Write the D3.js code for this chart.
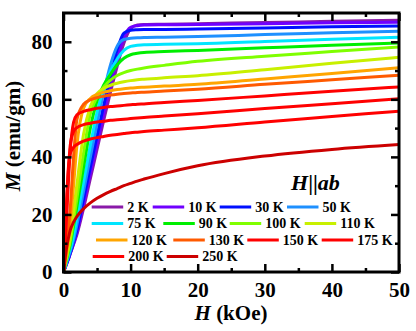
<!DOCTYPE html>
<html>
<head>
<meta charset="utf-8">
<script src="https://cdn.jsdelivr.net/npm/d3@7"></script>
<style>
  body { margin: 0; background: #fff; }
  svg { display: block; }
</style>
</head>
<body>
<svg id="chart" width="416" height="331"></svg>
<script>
// field values (kOe) shared by all curves
const fields = [0, 0.25, 0.5, 0.75, 1, 1.5, 2, 3, 4, 5, 6, 7, 8, 9, 10, 11, 12, 15, 20, 30, 40, 50];

const temps = ["2 K", "10 K", "30 K", "50 K", "75 K", "90 K", "100 K", "110 K", "120 K", "130 K", "150 K", "175 K", "200 K", "250 K"];
const colors = ["#8a1aa8", "#7000ff", "#0010ff", "#1e90ff", "#00e5ff", "#00ee00", "#7fff00", "#c8f000",
                "#ffa500", "#ff5a00", "#ff0000", "#ff0000", "#ff0000", "#cc0000"];

// magnetisation (emu/gm), one row per temperature
const m2   = [0, 1.5, 3, 4.6, 6.3, 9.6, 13, 22.2, 32.4, 42.6, 52.8, 62.5, 71.5, 79.5, 84.5, 85.8, 86, 86.1, 86.3, 86.7, 87.1, 87.5];
const m10  = [0, 1.5, 3.1, 4.6, 6.4, 9.9, 13.8, 23.8, 34.2, 44.6, 55, 65, 74, 81.5, 85, 85.6, 85.8, 85.9, 86, 86.3, 86.6, 86.8];
const m30  = [0, 1.6, 3.2, 4.8, 6.6, 10.3, 14.6, 25.5, 36.4, 47.3, 58, 68, 77.2, 83, 84, 84.2, 84.3, 84.3, 84.4, 84.8, 85.2, 85.5];
const m50  = [0, 1.8, 3.6, 5.4, 7.2, 11.2, 16.4, 28.2, 39.9, 51.6, 62.5, 72, 78.5, 80.8, 81.2, 81.4, 81.5, 81.6, 81.8, 82.5, 83.1, 83.7];
const m75  = [0, 2, 4, 6, 8, 12.7, 19, 31.5, 44, 55.5, 64, 69.8, 74, 77, 78.4, 78.8, 79, 79.1, 79.3, 80.1, 80.9, 81.6];
const m90  = [0, 2.4, 4.7, 7, 9.5, 16, 22.8, 36.5, 50, 59.5, 65, 68.7, 72, 74.3, 75.5, 76, 76.3, 76.6, 77, 77.9, 78.8, 79.6];
const m100 = [0, 2.6, 5.2, 7.8, 10.5, 17.8, 25.7, 41.5, 55, 60.8, 64.3, 66.7, 68.3, 69.3, 70, 70.5, 70.9, 71.8, 73.2, 75, 76.6, 78.2];
const m110 = [0, 3, 5.8, 8.8, 12, 21, 30.4, 48, 57.5, 62, 63.8, 64.9, 65.6, 66.1, 66.5, 66.8, 67, 67.5, 68.2, 70.3, 72.5, 74.6];
const m120 = [0, 3.5, 7.5, 12, 17, 30, 44, 57, 60.3, 61.7, 62.5, 63, 63.4, 63.7, 63.9, 64.1, 64.2, 64.6, 65.2, 67.1, 69, 71];
const m130 = [0, 4, 9, 15, 22, 40, 53, 58.3, 59.8, 60.6, 61.1, 61.5, 61.8, 62, 62.2, 62.4, 62.5, 62.9, 63.5, 65.2, 66.8, 68.4];
const m150 = [0, 10, 21, 32, 42, 52, 54.6, 55.8, 56.4, 56.9, 57.2, 57.5, 57.7, 57.9, 58.1, 58.3, 58.4, 58.9, 59.6, 61.2, 62.8, 64.3];
const m175 = [0, 11, 24, 36, 44, 48.8, 50.2, 51.2, 51.7, 52.1, 52.4, 52.7, 52.9, 53.1, 53.3, 53.5, 53.7, 54.2, 55, 56.8, 58.5, 60.2];
const m200 = [0, 12, 27, 37, 41, 43.3, 44.3, 45.5, 46.2, 46.7, 47.1, 47.5, 47.8, 48.1, 48.4, 48.6, 48.8, 49.3, 50.1, 52.1, 54, 55.9];
const m250 = [0, 5, 9, 12, 14.5, 17.3, 19.3, 22, 24, 25.6, 26.9, 28, 29, 30, 30.8, 31.6, 32.3, 34.2, 36.9, 40.3, 42.6, 44.3];
const curves = [m2, m10, m30, m50, m75, m90, m100, m110, m120, m130, m150, m175, m200, m250];

const xTicks = [0, 10, 20, 30, 40, 50];
const yTicks = [0, 20, 40, 60, 80];

const plot = { left: 63.5, right: 399, top: 13, bottom: 272 };

// legend layout (Origin style, entries sit at fixed stops)
const legendRows = [207, 223.5, 240, 256.5];
const legendStops = [91.7, 152.7, 219.7, 287, 91.7, 163.3, 229.7, 304.7, 96, 173.3, 247.3, 321.7, 92.7, 166.7];

const svg = d3.select("#chart");

const x = d3.scaleLinear().domain([0, 50]).range([plot.left, plot.right]);
const y = d3.scaleLinear().domain([0, 90]).range([plot.bottom, plot.top]);

// every text gets the serif face inline
function serif(sel, size) {
  sel.style("font-family", "Liberation Serif")
    .style("font-weight", "bold")
    .style("font-size", size + "px")
    .style("fill", "#000");
}

// clip so curves stop at the frame
svg.append("clipPath").attr("id", "clip")
  .append("rect")
  .attr("x", plot.left).attr("y", plot.top)
  .attr("width", plot.right - plot.left).attr("height", plot.bottom - plot.top);

const line = d3.line()
  .curve(d3.curveMonotoneX)
  .x(d => x(d[0]))
  .y(d => y(d[1]));

const lines = svg.append("g").attr("clip-path", "url(#clip)");
curves.forEach((c, i) => {
  lines.append("path")
    .datum(fields.map((h, j) => [h, c[j]]))
    .attr("d", line)
    .attr("fill", "none")
    .attr("stroke", colors[i])
    .attr("stroke-width", 3);
});

/*
 * axes : ticks point inward, mirrored on top and right
 */
const fontSize = 21;
const minorX = d3.range(5, 50, 10);
const minorY = d3.range(10, 90, 20);

function styleAxis(g) {
  g.select(".domain").remove();
  g.selectAll(".tick line").attr("stroke", "#000").attr("stroke-width", 2.5);
  g.selectAll("text").call(serif, fontSize);
}

svg.append("g")
  .attr("transform", `translate(0,${plot.bottom})`)
  .call(d3.axisBottom(x).tickValues(xTicks).tickSize(-8).tickPadding(10))
  .call(styleAxis);
svg.append("g")
  .attr("transform", `translate(0,${plot.bottom})`)
  .call(d3.axisBottom(x).tickValues(minorX).tickSize(-4).tickFormat(""))
  .call(styleAxis);
svg.append("g")
  .attr("transform", `translate(0,${plot.top})`)
  .call(d3.axisTop(x).tickValues(xTicks).tickSize(-8).tickFormat(""))
  .call(styleAxis);
svg.append("g")
  .attr("transform", `translate(0,${plot.top})`)
  .call(d3.axisTop(x).tickValues(minorX).tickSize(-4).tickFormat(""))
  .call(styleAxis);

svg.append("g")
  .attr("transform", `translate(${plot.left},0)`)
  .call(d3.axisLeft(y).tickValues(yTicks).tickSize(-8).tickPadding(11))
  .call(styleAxis);
svg.append("g")
  .attr("transform", `translate(${plot.left},0)`)
  .call(d3.axisLeft(y).tickValues(minorY).tickSize(-4).tickFormat(""))
  .call(styleAxis);
svg.append("g")
  .attr("transform", `translate(${plot.right},0)`)
  .call(d3.axisRight(y).tickValues(yTicks).tickSize(-8).tickFormat(""))
  .call(styleAxis);
svg.append("g")
  .attr("transform", `translate(${plot.right},0)`)
  .call(d3.axisRight(y).tickValues(minorY).tickSize(-4).tickFormat(""))
  .call(styleAxis);

// frame
svg.append("rect")
  .attr("x", plot.left).attr("y", plot.top)
  .attr("width", plot.right - plot.left).attr("height", plot.bottom - plot.top)
  .attr("fill", "none").attr("stroke", "#000").attr("stroke-width", 3);

// axis titles
const xt = svg.append("text")
  .attr("x", 231).attr("y", 320)
  .attr("text-anchor", "middle")
  .call(serif, fontSize);
xt.append("tspan").style("font-style", "italic").text("H");
xt.append("tspan").text(" (kOe)");

const yt = svg.append("text")
  .attr("transform", "translate(20,136) rotate(-90)")
  .attr("text-anchor", "middle")
  .call(serif, fontSize);
yt.append("tspan").style("font-style", "italic").text("M");
yt.append("tspan").text(" (emu/gm)");

// field direction annotation
const ann = svg.append("text")
  .attr("x", 291).attr("y", 190)
  .call(serif, 22);
ann.append("tspan").style("font-style", "italic").text("H");
ann.append("tspan").text("||");
ann.append("tspan").style("font-style", "italic").text("ab");

/*
 * legend
 */
const legend = svg.append("g");
temps.forEach((t, i) => {
  const lx = legendStops[i];
  const ly = legendRows[Math.floor(i / 4)];
  legend.append("line")
    .attr("x1", lx).attr("x2", lx + 31.5)
    .attr("y1", ly).attr("y2", ly)
    .attr("stroke", colors[i]).attr("stroke-width", 3);
  legend.append("text")
    .attr("x", lx + 35.5).attr("y", ly)
    .attr("dy", "0.35em")
    .call(serif, 14)
    .text(t);
});
</script>
</body>
</html>
